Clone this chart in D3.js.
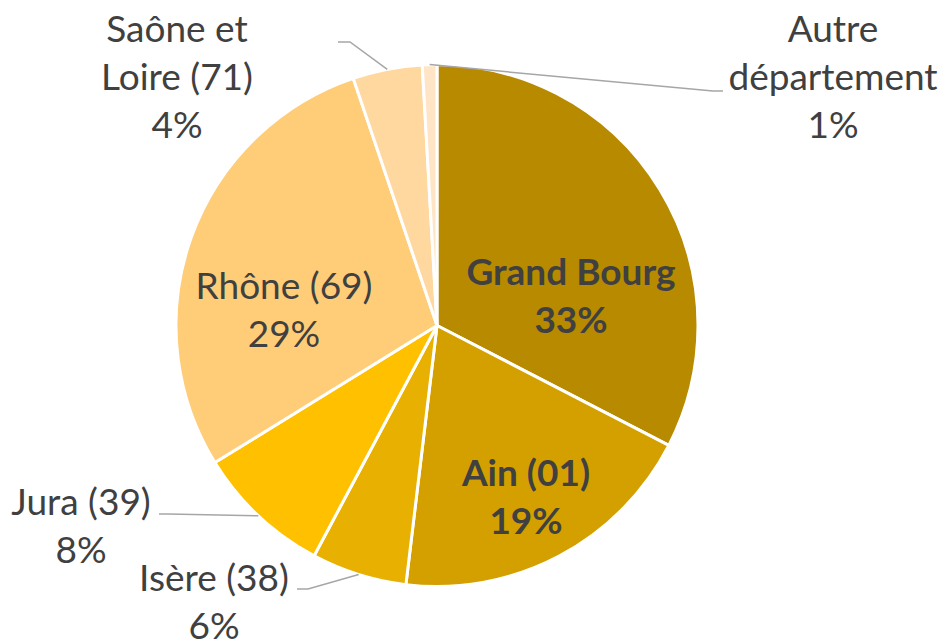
<!DOCTYPE html>
<html>
<head>
<meta charset="utf-8">
<script src="https://cdn.jsdelivr.net/npm/d3@7"></script>
<style>
  body { margin: 0; background: #fff; }
  #chart text { font-family: Lato, "Open Sans", sans-serif; fill: #404040; }
</style>
</head>
<body>
<div id="chart"></div>
<script>
const categories = ["Grand Bourg", "Ain (01)", "Isère (38)", "Jura (39)", "Rhône (69)", "Saône et Loire (71)", "Autre département"];
const shares = [32.6, 19.3, 5.9, 8.4, 28.6, 4.3, 0.9];
const colors = ["#B88A00", "#D4A000", "#E8B000", "#FFC000", "#FFCC78", "#FFD8A0", "#FFE4C6"];

// label layout (Excel-like placement), firstLine = words on line 1
const labelLayout = [
    { x: 571, y: 285, bold: true, firstLine: 2 },
    { x: 526, y: 486, bold: true, firstLine: 2 },
    { x: 214, y: 591, leader: [[297, 589], [308, 589]], firstLine: 2 },
    { x: 81, y: 515, leader: [[159, 514], [168, 514]], firstLine: 2 },
    { x: 284, y: 299, firstLine: 2 },
    { x: 177, y: 42, leader: [[338, 42], [350, 42]], firstLine: 2 },
    { x: 833, y: 42, leader: [[723, 91], [713, 91]], firstLine: 1 }
];

const width = 947, height = 642;
const cx = 437, cy = 325.5, radius = 261;
const lineHeight = 48;

const svg = d3.select("#chart").append("svg")
    .attr("width", width)
    .attr("height", height);

const data = categories.map((name, i) => ({ name, value: shares[i], color: colors[i], layout: labelLayout[i] }));
const total = d3.sum(shares);

const pie = d3.pie().sort(null).value(d => d.value);
const arc = d3.arc().innerRadius(0).outerRadius(radius);
const arcs = pie(data);

const g = svg.append("g").attr("transform", `translate(${cx},${cy})`);

g.selectAll("path.slice")
    .data(arcs)
    .enter().append("path")
    .attr("class", "slice")
    .attr("d", arc)
    .attr("fill", d => d.data.color)
    .attr("stroke", "#fff")
    .attr("stroke-width", 3)
    .attr("stroke-linejoin", "round");

// leader lines: from label to the middle of the slice's outer edge
arcs.filter(d => d.data.layout.leader).forEach(d => {
    const mid = (d.startAngle + d.endAngle) / 2;
    const edge = [cx + radius * Math.sin(mid), cy - radius * Math.cos(mid)];
    const pts = d.data.layout.leader.concat([edge]);
    svg.append("path")
        .attr("d", d3.line()(pts))
        .attr("fill", "none")
        .attr("stroke", "#A6A6A6")
        .attr("stroke-width", 1.5);
});

arcs.forEach(d => {
    const lay = d.data.layout;
    const words = d.data.name.split(" ");
    const lines = [words.slice(0, lay.firstLine).join(" ")];
    if (words.length > lay.firstLine) lines.push(words.slice(lay.firstLine).join(" "));
    lines.push(Math.round(d.data.value / total * 100) + "%");

    const t = svg.append("text")
        .attr("text-anchor", "middle")
        .style("font-size", "37px")
        .style("font-weight", lay.bold ? "bold" : "normal");

    lines.forEach((ln, i) => {
        t.append("tspan")
            .attr("x", lay.x)
            .attr("y", lay.y + i * lineHeight)
            .text(ln);
    });
});
</script>
</body>
</html>
